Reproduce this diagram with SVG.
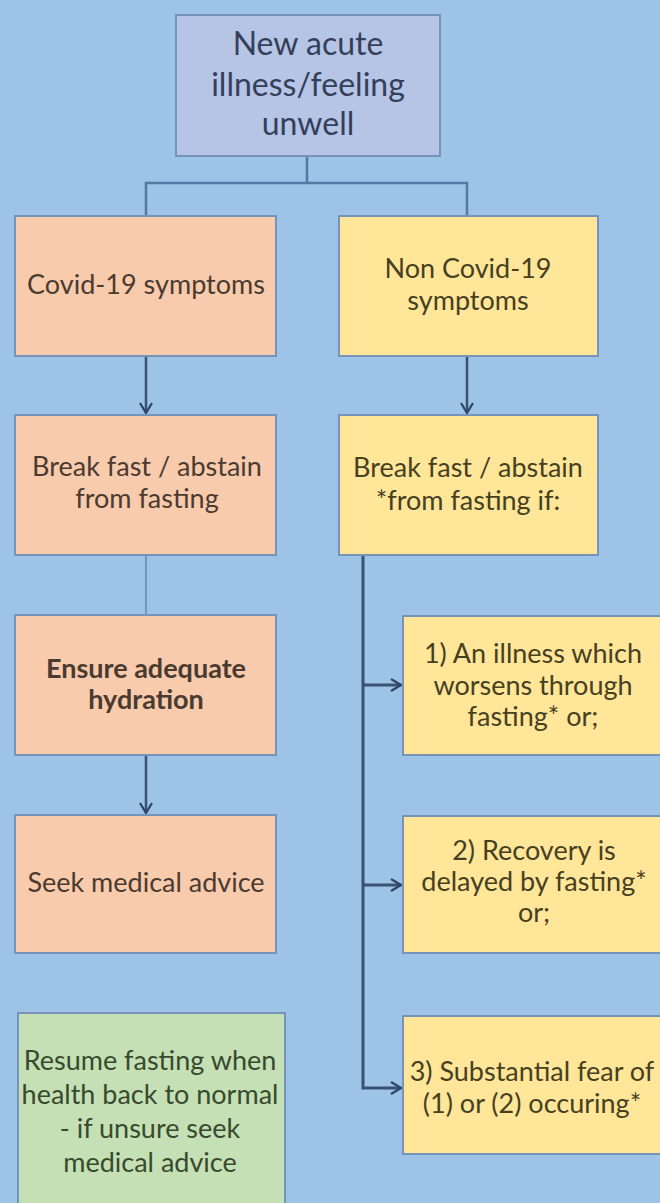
<svg xmlns="http://www.w3.org/2000/svg" width="660" height="1203" viewBox="0 0 660 1203">
<defs>
<style>
.bg{fill:#9DC3E6}
.box{stroke:#7893BA;stroke-width:2}
.top{fill:#B6C4E6}
.org{fill:#F8CBAD}
.yel{fill:#FFE699}
.grn{fill:#C5E0B4}
text{font-family:Lato,"Liberation Sans",sans-serif;font-size:27px;text-anchor:middle}
.t-top{fill:#34405A;font-size:32px}
.t-org{fill:#4A3A30}
.t-yel{fill:#47401F}
.t-grn{fill:#384A2E}
.b{font-weight:bold}
.c1{fill:none;stroke:#5479A4;stroke-width:2.5}
.c2{fill:none;stroke:#3A5272;stroke-width:2.5}
.c3{fill:none;stroke:#7596BC;stroke-width:2}
.c4{fill:none;stroke:#3A5272;stroke-width:3}
</style>
<marker id="arr" viewBox="0 0 12 14" refX="11" refY="7" markerWidth="12" markerHeight="14" markerUnits="userSpaceOnUse" orient="auto">
<path d="M1,1 L11,7 L1,13" fill="none" stroke="#2F4563" stroke-width="2.2"/>
</marker>
</defs>
<rect class="bg" x="0" y="0" width="660" height="1203"/>
<g id="connectors">
<path class="c1" d="M307,156 V183 M146,216 V183 H467 V216"/>
<path class="c2" d="M146,356 V413" marker-end="url(#arr)"/>
<path class="c2" d="M467,356 V413" marker-end="url(#arr)"/>
<path class="c3" d="M146,555 V615"/>
<path class="c2" d="M146,755 V813" marker-end="url(#arr)"/>
<path class="c4" d="M363,555 V1088 H401" marker-end="url(#arr)"/>
<path class="c4" d="M363,685 H401" marker-end="url(#arr)"/>
<path class="c4" d="M363,885 H401" marker-end="url(#arr)"/>
</g>
<g id="n-start">
<rect class="box top" x="176" y="15" width="264" height="141"/>
<text class="t-top" x="308" y="55">New acute</text>
<text class="t-top" x="308" y="96">illness/feeling</text>
<text class="t-top" x="308" y="135">unwell</text>
</g>
<g id="n-covid">
<rect class="box org" x="15" y="216" width="261" height="140"/>
<text class="t-org" x="146" y="294">Covid-19 symptoms</text>
</g>
<g id="n-noncovid">
<rect class="box yel" x="339" y="216" width="259" height="140"/>
<text class="t-yel" x="468" y="278">Non Covid-19</text>
<text class="t-yel" x="468" y="310">symptoms</text>
</g>
<g id="n-break-left">
<rect class="box org" x="15" y="415" width="261" height="140"/>
<text class="t-org" x="147" y="476">Break fast / abstain</text>
<text class="t-org" x="147" y="508">from fasting</text>
</g>
<g id="n-break-right">
<rect class="box yel" x="339" y="415" width="259" height="140"/>
<text class="t-yel" x="468" y="477">Break fast / abstain</text>
<text class="t-yel" x="468" y="510">*from fasting if:</text>
</g>
<g id="n-hydration">
<rect class="box org" x="15" y="615" width="261" height="140"/>
<text class="t-org b" x="146" y="678">Ensure adequate</text>
<text class="t-org b" x="146" y="709">hydration</text>
</g>
<g id="n-cond1">
<rect class="box yel" x="403" y="616" width="262" height="139"/>
<text class="t-yel" x="533" y="663">1) An illness which</text>
<text class="t-yel" x="533" y="695">worsens through</text>
<text class="t-yel" x="533" y="726">fasting* or;</text>
</g>
<g id="n-seek">
<rect class="box org" x="15" y="815" width="261" height="138"/>
<text class="t-org" x="146" y="892">Seek medical advice</text>
</g>
<g id="n-cond2">
<rect class="box yel" x="403" y="816" width="262" height="137"/>
<text class="t-yel" x="534" y="860">2) Recovery is</text>
<text class="t-yel" x="534" y="891">delayed by fasting*</text>
<text class="t-yel" x="534" y="922">or;</text>
</g>
<g id="n-resume">
<rect class="box grn" x="18" y="1013" width="267" height="200"/>
<text class="t-grn" x="150" y="1070">Resume fasting when</text>
<text class="t-grn" x="150" y="1104">health back to normal</text>
<text class="t-grn" x="150" y="1138">- if unsure seek</text>
<text class="t-grn" x="150" y="1172">medical advice</text>
</g>
<g id="n-cond3">
<rect class="box yel" x="403" y="1016" width="262" height="138"/>
<text class="t-yel" x="532" y="1081">3) Substantial fear of</text>
<text class="t-yel" x="532" y="1113">(1) or (2) occuring*</text>
</g>
</svg>
